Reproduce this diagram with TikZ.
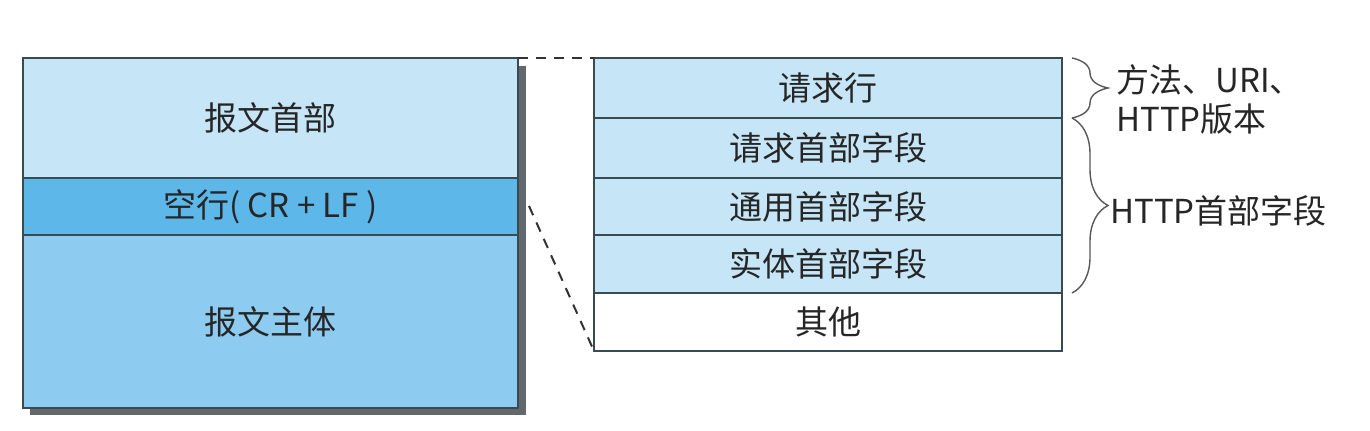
\documentclass[tikz,border=0pt]{standalone}
\usepackage{fontspec}
\setmainfont{Noto Sans CJK SC}
\usetikzlibrary{decorations.pathreplacing}
\definecolor{hdrblue}{HTML}{C6E6F8}
\definecolor{midblue}{HTML}{5DB7E9}
\definecolor{bodyblue}{HTML}{8DCBF1}
\definecolor{edge}{HTML}{3A4A52}
\definecolor{shadowgray}{HTML}{62686C}
\tikzset{
  cell/.style={draw=edge, line width=1pt, inner sep=0pt, outer sep=0pt,
    font=\fontsize{16.5}{20}\selectfont, text=black!85},
  dashline/.style={draw=black!80, dashed, dash pattern=on 5pt off 4pt, line width=1pt},
  bracepath/.style={draw=black!65, line width=0.7pt, decorate,
    decoration={brace, amplitude=18pt}},
  note/.style={font=\fontsize{16.5}{19.5}\selectfont, text=black!85, align=left, inner sep=0pt, anchor=west}
}
\begin{document}
\begin{tikzpicture}[x=0.5pt, y=-0.5pt]
\useasboundingbox (0,0) rectangle (1370,430);
\fill[white] (0,0) rectangle (1370,430);
% shadow of left box
\fill[shadowgray] (30,66) rectangle (526,415);
% left box rows
\node[cell, fill=hdrblue, minimum width=247.5pt, minimum height=60pt, anchor=north west] (hdr) at (23,58) {报文首部};
\node[cell, fill=midblue, minimum width=247.5pt, minimum height=28.5pt, anchor=north west] (blank) at (23,178) {空行( CR + LF )};
\node[cell, fill=bodyblue, minimum width=247.5pt, minimum height=86.5pt, anchor=north west] (body) at (23,235) {报文主体};
% right box rows
\node[cell, fill=hdrblue, minimum width=234pt, minimum height=30pt, anchor=north west] (req) at (594,58) {请求行};
\node[cell, fill=hdrblue, minimum width=234pt, minimum height=30pt, anchor=north west] (rqh) at (594,118) {请求首部字段};
\node[cell, fill=hdrblue, minimum width=234pt, minimum height=28.5pt, anchor=north west] (gen) at (594,178) {通用首部字段};
\node[cell, fill=hdrblue, minimum width=234pt, minimum height=29pt, anchor=north west] (ent) at (594,235) {实体首部字段};
\node[cell, fill=white, minimum width=234pt, minimum height=29pt, anchor=north west] (oth) at (594,293) {其他};
% dashed connectors
\coordinate (blankout) at (529,206);
\draw[dashline] (hdr.north east) -- (req.north west);
\draw[dashline] (blankout) -- (oth.south west);
% braces
\coordinate (b1s) at (1072,58);
\coordinate (b1e) at (1072,118);
\coordinate (b2s) at (1072,118);
\coordinate (b2e) at (1072,293);
\draw[bracepath] (b1s) -- (b1e);
\draw[bracepath] (b2s) -- (b2e);
% notes
\node[note] (n1) at (1116,99) {方法、URI、\\HTTP版本};
\node[note] (n2) at (1110,211) {HTTP首部字段};
\end{tikzpicture}
\end{document}
